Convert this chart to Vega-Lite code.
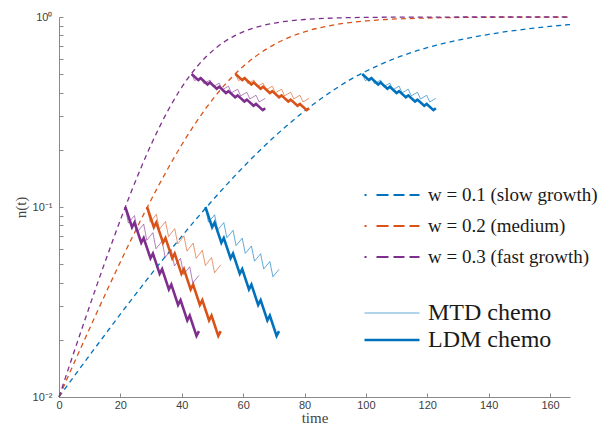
{
"$schema": "https://vega.github.io/schema/vega-lite/v6.json",
"width": 511, "height": 380,
"autosize": {"type": "none"},
"padding": {"left": 59, "top": 17, "right": 40, "bottom": 34},
"background": "white",
"config": {"view": {"stroke": null}, "font": "Liberation Sans"},
"datasets": {
"growth": [
{"t":0,"n":0.01,"w":"w = 0.1 (slow growth)"},{"t":5,"n":0.0129,"w":"w = 0.1 (slow growth)"},{"t":10,"n":0.0166,"w":"w = 0.1 (slow growth)"},{"t":15,"n":0.0213,"w":"w = 0.1 (slow growth)"},{"t":20,"n":0.0273,"w":"w = 0.1 (slow growth)"},{"t":25,"n":0.0348,"w":"w = 0.1 (slow growth)"},{"t":30,"n":0.0442,"w":"w = 0.1 (slow growth)"},{"t":35,"n":0.0558,"w":"w = 0.1 (slow growth)"},{"t":40,"n":0.0701,"w":"w = 0.1 (slow growth)"},{"t":45,"n":0.0875,"w":"w = 0.1 (slow growth)"},{"t":50,"n":0.1083,"w":"w = 0.1 (slow growth)"},{"t":55,"n":0.1331,"w":"w = 0.1 (slow growth)"},{"t":60,"n":0.1621,"w":"w = 0.1 (slow growth)"},{"t":65,"n":0.1954,"w":"w = 0.1 (slow growth)"},{"t":70,"n":0.2329,"w":"w = 0.1 (slow growth)"},{"t":75,"n":0.2746,"w":"w = 0.1 (slow growth)"},{"t":80,"n":0.3198,"w":"w = 0.1 (slow growth)"},{"t":85,"n":0.3679,"w":"w = 0.1 (slow growth)"},{"t":90,"n":0.4181,"w":"w = 0.1 (slow growth)"},{"t":95,"n":0.4693,"w":"w = 0.1 (slow growth)"},{"t":100,"n":0.518,"w":"w = 0.1 (slow growth)"},{"t":105,"n":0.565,"w":"w = 0.1 (slow growth)"},{"t":110,"n":0.61,"w":"w = 0.1 (slow growth)"},{"t":115,"n":0.651,"w":"w = 0.1 (slow growth)"},{"t":120,"n":0.69,"w":"w = 0.1 (slow growth)"},{"t":125,"n":0.724,"w":"w = 0.1 (slow growth)"},{"t":130,"n":0.755,"w":"w = 0.1 (slow growth)"},{"t":135,"n":0.784,"w":"w = 0.1 (slow growth)"},{"t":140,"n":0.81,"w":"w = 0.1 (slow growth)"},{"t":145,"n":0.834,"w":"w = 0.1 (slow growth)"},{"t":150,"n":0.855,"w":"w = 0.1 (slow growth)"},{"t":155,"n":0.875,"w":"w = 0.1 (slow growth)"},{"t":160,"n":0.893,"w":"w = 0.1 (slow growth)"},{"t":166.5,"n":0.912,"w":"w = 0.1 (slow growth)"},
{"t":0,"n":0.01,"w":"w = 0.2 (medium)"},{"t":4,"n":0.01398,"w":"w = 0.2 (medium)"},{"t":8,"n":0.0195,"w":"w = 0.2 (medium)"},{"t":12,"n":0.02708,"w":"w = 0.2 (medium)"},{"t":16,"n":0.03743,"w":"w = 0.2 (medium)"},{"t":20,"n":0.0514,"w":"w = 0.2 (medium)"},{"t":24,"n":0.06995,"w":"w = 0.2 (medium)"},{"t":28,"n":0.09432,"w":"w = 0.2 (medium)"},{"t":32,"n":0.1256,"w":"w = 0.2 (medium)"},{"t":36,"n":0.1649,"w":"w = 0.2 (medium)"},{"t":40,"n":0.2127,"w":"w = 0.2 (medium)"},{"t":44,"n":0.269,"w":"w = 0.2 (medium)"},{"t":48,"n":0.333,"w":"w = 0.2 (medium)"},{"t":52,"n":0.4029,"w":"w = 0.2 (medium)"},{"t":56,"n":0.4758,"w":"w = 0.2 (medium)"},{"t":60,"n":0.5491,"w":"w = 0.2 (medium)"},{"t":64,"n":0.6194,"w":"w = 0.2 (medium)"},{"t":68,"n":0.6845,"w":"w = 0.2 (medium)"},{"t":72,"n":0.7428,"w":"w = 0.2 (medium)"},{"t":76,"n":0.793,"w":"w = 0.2 (medium)"},{"t":80,"n":0.8356,"w":"w = 0.2 (medium)"},{"t":86.7,"n":0.8902,"w":"w = 0.2 (medium)"},{"t":93.3,"n":0.9281,"w":"w = 0.2 (medium)"},{"t":100,"n":0.9535,"w":"w = 0.2 (medium)"},{"t":106.7,"n":0.9702,"w":"w = 0.2 (medium)"},{"t":120,"n":0.988,"w":"w = 0.2 (medium)"},{"t":133.3,"n":0.9952,"w":"w = 0.2 (medium)"},{"t":160,"n":0.9992,"w":"w = 0.2 (medium)"},{"t":166.5,"n":0.9995,"w":"w = 0.2 (medium)"},
{"t":0,"n":0.01,"w":"w = 0.3 (fast growth)"},{"t":3,"n":0.01398,"w":"w = 0.3 (fast growth)"},{"t":6,"n":0.0195,"w":"w = 0.3 (fast growth)"},{"t":9,"n":0.02708,"w":"w = 0.3 (fast growth)"},{"t":12,"n":0.03743,"w":"w = 0.3 (fast growth)"},{"t":15,"n":0.0514,"w":"w = 0.3 (fast growth)"},{"t":18,"n":0.06995,"w":"w = 0.3 (fast growth)"},{"t":21,"n":0.09432,"w":"w = 0.3 (fast growth)"},{"t":24,"n":0.1256,"w":"w = 0.3 (fast growth)"},{"t":27,"n":0.1649,"w":"w = 0.3 (fast growth)"},{"t":30,"n":0.2127,"w":"w = 0.3 (fast growth)"},{"t":33,"n":0.269,"w":"w = 0.3 (fast growth)"},{"t":36,"n":0.333,"w":"w = 0.3 (fast growth)"},{"t":39,"n":0.4029,"w":"w = 0.3 (fast growth)"},{"t":42,"n":0.4758,"w":"w = 0.3 (fast growth)"},{"t":45,"n":0.5491,"w":"w = 0.3 (fast growth)"},{"t":48,"n":0.6194,"w":"w = 0.3 (fast growth)"},{"t":51,"n":0.6845,"w":"w = 0.3 (fast growth)"},{"t":54,"n":0.7428,"w":"w = 0.3 (fast growth)"},{"t":57,"n":0.793,"w":"w = 0.3 (fast growth)"},{"t":60,"n":0.8356,"w":"w = 0.3 (fast growth)"},{"t":65,"n":0.8902,"w":"w = 0.3 (fast growth)"},{"t":70,"n":0.9281,"w":"w = 0.3 (fast growth)"},{"t":75,"n":0.9535,"w":"w = 0.3 (fast growth)"},{"t":80,"n":0.9702,"w":"w = 0.3 (fast growth)"},{"t":90,"n":0.988,"w":"w = 0.3 (fast growth)"},{"t":100,"n":0.9952,"w":"w = 0.3 (fast growth)"},{"t":120,"n":0.9992,"w":"w = 0.3 (fast growth)"},{"t":140,"n":0.9999,"w":"w = 0.3 (fast growth)"},{"t":166.5,"n":1,"w":"w = 0.3 (fast growth)"}
],
"chemo": [
{"id":"p-lo-M","w":"w = 0.3 (fast growth)","k":"MTD chemo","t":21.6,"n":0.1},{"id":"p-lo-M","w":"w = 0.3 (fast growth)","k":"MTD chemo","t":22.6,"n":0.08222},{"id":"p-lo-M","w":"w = 0.3 (fast growth)","k":"MTD chemo","t":24.6,"n":0.09016},{"id":"p-lo-M","w":"w = 0.3 (fast growth)","k":"MTD chemo","t":25.6,"n":0.07413},{"id":"p-lo-M","w":"w = 0.3 (fast growth)","k":"MTD chemo","t":27.6,"n":0.08128},{"id":"p-lo-M","w":"w = 0.3 (fast growth)","k":"MTD chemo","t":28.6,"n":0.06683},{"id":"p-lo-M","w":"w = 0.3 (fast growth)","k":"MTD chemo","t":30.6,"n":0.07328},{"id":"p-lo-M","w":"w = 0.3 (fast growth)","k":"MTD chemo","t":31.6,"n":0.06025},{"id":"p-lo-M","w":"w = 0.3 (fast growth)","k":"MTD chemo","t":33.6,"n":0.06607},{"id":"p-lo-M","w":"w = 0.3 (fast growth)","k":"MTD chemo","t":34.6,"n":0.05432},{"id":"p-lo-M","w":"w = 0.3 (fast growth)","k":"MTD chemo","t":36.6,"n":0.05957},{"id":"p-lo-M","w":"w = 0.3 (fast growth)","k":"MTD chemo","t":37.6,"n":0.04898},{"id":"p-lo-M","w":"w = 0.3 (fast growth)","k":"MTD chemo","t":39.6,"n":0.05371},{"id":"p-lo-M","w":"w = 0.3 (fast growth)","k":"MTD chemo","t":40.6,"n":0.04416},{"id":"p-lo-M","w":"w = 0.3 (fast growth)","k":"MTD chemo","t":42.6,"n":0.04842},{"id":"p-lo-M","w":"w = 0.3 (fast growth)","k":"MTD chemo","t":43.6,"n":0.03981},{"id":"p-lo-M","w":"w = 0.3 (fast growth)","k":"MTD chemo","t":45.6,"n":0.04366},
{"id":"o-lo-M","w":"w = 0.2 (medium)","k":"MTD chemo","t":28.7,"n":0.1},{"id":"o-lo-M","w":"w = 0.2 (medium)","k":"MTD chemo","t":29.7,"n":0.08318},{"id":"o-lo-M","w":"w = 0.2 (medium)","k":"MTD chemo","t":31.7,"n":0.09162},{"id":"o-lo-M","w":"w = 0.2 (medium)","k":"MTD chemo","t":32.7,"n":0.07621},{"id":"o-lo-M","w":"w = 0.2 (medium)","k":"MTD chemo","t":34.7,"n":0.08394},{"id":"o-lo-M","w":"w = 0.2 (medium)","k":"MTD chemo","t":35.7,"n":0.06982},{"id":"o-lo-M","w":"w = 0.2 (medium)","k":"MTD chemo","t":37.7,"n":0.07691},{"id":"o-lo-M","w":"w = 0.2 (medium)","k":"MTD chemo","t":38.7,"n":0.06397},{"id":"o-lo-M","w":"w = 0.2 (medium)","k":"MTD chemo","t":40.7,"n":0.07046},{"id":"o-lo-M","w":"w = 0.2 (medium)","k":"MTD chemo","t":41.7,"n":0.05861},{"id":"o-lo-M","w":"w = 0.2 (medium)","k":"MTD chemo","t":43.7,"n":0.06456},{"id":"o-lo-M","w":"w = 0.2 (medium)","k":"MTD chemo","t":44.7,"n":0.0537},{"id":"o-lo-M","w":"w = 0.2 (medium)","k":"MTD chemo","t":46.7,"n":0.05915},{"id":"o-lo-M","w":"w = 0.2 (medium)","k":"MTD chemo","t":47.7,"n":0.0492},{"id":"o-lo-M","w":"w = 0.2 (medium)","k":"MTD chemo","t":49.7,"n":0.05419},{"id":"o-lo-M","w":"w = 0.2 (medium)","k":"MTD chemo","t":50.7,"n":0.04508},{"id":"o-lo-M","w":"w = 0.2 (medium)","k":"MTD chemo","t":52.7,"n":0.04965},
{"id":"b-lo-M","w":"w = 0.1 (slow growth)","k":"MTD chemo","t":47.7,"n":0.1},{"id":"b-lo-M","w":"w = 0.1 (slow growth)","k":"MTD chemo","t":48.7,"n":0.08318},{"id":"b-lo-M","w":"w = 0.1 (slow growth)","k":"MTD chemo","t":50.7,"n":0.09099},{"id":"b-lo-M","w":"w = 0.1 (slow growth)","k":"MTD chemo","t":51.7,"n":0.07569},{"id":"b-lo-M","w":"w = 0.1 (slow growth)","k":"MTD chemo","t":53.7,"n":0.08279},{"id":"b-lo-M","w":"w = 0.1 (slow growth)","k":"MTD chemo","t":54.7,"n":0.06887},{"id":"b-lo-M","w":"w = 0.1 (slow growth)","k":"MTD chemo","t":56.7,"n":0.07533},{"id":"b-lo-M","w":"w = 0.1 (slow growth)","k":"MTD chemo","t":57.7,"n":0.06266},{"id":"b-lo-M","w":"w = 0.1 (slow growth)","k":"MTD chemo","t":59.7,"n":0.06855},{"id":"b-lo-M","w":"w = 0.1 (slow growth)","k":"MTD chemo","t":60.7,"n":0.05702},{"id":"b-lo-M","w":"w = 0.1 (slow growth)","k":"MTD chemo","t":62.7,"n":0.06237},{"id":"b-lo-M","w":"w = 0.1 (slow growth)","k":"MTD chemo","t":63.7,"n":0.05188},{"id":"b-lo-M","w":"w = 0.1 (slow growth)","k":"MTD chemo","t":65.7,"n":0.05675},{"id":"b-lo-M","w":"w = 0.1 (slow growth)","k":"MTD chemo","t":66.7,"n":0.0472},{"id":"b-lo-M","w":"w = 0.1 (slow growth)","k":"MTD chemo","t":68.7,"n":0.05164},{"id":"b-lo-M","w":"w = 0.1 (slow growth)","k":"MTD chemo","t":69.7,"n":0.04295},{"id":"b-lo-M","w":"w = 0.1 (slow growth)","k":"MTD chemo","t":71.7,"n":0.04699},
{"id":"p-hi-M","w":"w = 0.3 (fast growth)","k":"MTD chemo","t":43.2,"n":0.5012},{"id":"p-hi-M","w":"w = 0.3 (fast growth)","k":"MTD chemo","t":44.2,"n":0.4624},{"id":"p-hi-M","w":"w = 0.3 (fast growth)","k":"MTD chemo","t":46.2,"n":0.4831},{"id":"p-hi-M","w":"w = 0.3 (fast growth)","k":"MTD chemo","t":47.2,"n":0.4457},{"id":"p-hi-M","w":"w = 0.3 (fast growth)","k":"MTD chemo","t":49.2,"n":0.4656},{"id":"p-hi-M","w":"w = 0.3 (fast growth)","k":"MTD chemo","t":50.2,"n":0.4295},{"id":"p-hi-M","w":"w = 0.3 (fast growth)","k":"MTD chemo","t":52.2,"n":0.4487},{"id":"p-hi-M","w":"w = 0.3 (fast growth)","k":"MTD chemo","t":53.2,"n":0.414},{"id":"p-hi-M","w":"w = 0.3 (fast growth)","k":"MTD chemo","t":55.2,"n":0.4325},{"id":"p-hi-M","w":"w = 0.3 (fast growth)","k":"MTD chemo","t":56.2,"n":0.399},{"id":"p-hi-M","w":"w = 0.3 (fast growth)","k":"MTD chemo","t":58.2,"n":0.4168},{"id":"p-hi-M","w":"w = 0.3 (fast growth)","k":"MTD chemo","t":59.2,"n":0.3846},{"id":"p-hi-M","w":"w = 0.3 (fast growth)","k":"MTD chemo","t":61.2,"n":0.4017},{"id":"p-hi-M","w":"w = 0.3 (fast growth)","k":"MTD chemo","t":62.2,"n":0.3706},{"id":"p-hi-M","w":"w = 0.3 (fast growth)","k":"MTD chemo","t":64.2,"n":0.3872},{"id":"p-hi-M","w":"w = 0.3 (fast growth)","k":"MTD chemo","t":65.2,"n":0.3572},{"id":"p-hi-M","w":"w = 0.3 (fast growth)","k":"MTD chemo","t":67.2,"n":0.3732},
{"id":"o-hi-M","w":"w = 0.2 (medium)","k":"MTD chemo","t":57.5,"n":0.5012},{"id":"o-hi-M","w":"w = 0.2 (medium)","k":"MTD chemo","t":58.5,"n":0.4624},{"id":"o-hi-M","w":"w = 0.2 (medium)","k":"MTD chemo","t":60.5,"n":0.4831},{"id":"o-hi-M","w":"w = 0.2 (medium)","k":"MTD chemo","t":61.5,"n":0.4457},{"id":"o-hi-M","w":"w = 0.2 (medium)","k":"MTD chemo","t":63.5,"n":0.4656},{"id":"o-hi-M","w":"w = 0.2 (medium)","k":"MTD chemo","t":64.5,"n":0.4295},{"id":"o-hi-M","w":"w = 0.2 (medium)","k":"MTD chemo","t":66.5,"n":0.4487},{"id":"o-hi-M","w":"w = 0.2 (medium)","k":"MTD chemo","t":67.5,"n":0.414},{"id":"o-hi-M","w":"w = 0.2 (medium)","k":"MTD chemo","t":69.5,"n":0.4325},{"id":"o-hi-M","w":"w = 0.2 (medium)","k":"MTD chemo","t":70.5,"n":0.399},{"id":"o-hi-M","w":"w = 0.2 (medium)","k":"MTD chemo","t":72.5,"n":0.4168},{"id":"o-hi-M","w":"w = 0.2 (medium)","k":"MTD chemo","t":73.5,"n":0.3846},{"id":"o-hi-M","w":"w = 0.2 (medium)","k":"MTD chemo","t":75.5,"n":0.4017},{"id":"o-hi-M","w":"w = 0.2 (medium)","k":"MTD chemo","t":76.5,"n":0.3706},{"id":"o-hi-M","w":"w = 0.2 (medium)","k":"MTD chemo","t":78.5,"n":0.3872},{"id":"o-hi-M","w":"w = 0.2 (medium)","k":"MTD chemo","t":79.5,"n":0.3572},{"id":"o-hi-M","w":"w = 0.2 (medium)","k":"MTD chemo","t":81.5,"n":0.3732},
{"id":"b-hi-M","w":"w = 0.1 (slow growth)","k":"MTD chemo","t":98.8,"n":0.5012},{"id":"b-hi-M","w":"w = 0.1 (slow growth)","k":"MTD chemo","t":99.8,"n":0.4624},{"id":"b-hi-M","w":"w = 0.1 (slow growth)","k":"MTD chemo","t":101.8,"n":0.4831},{"id":"b-hi-M","w":"w = 0.1 (slow growth)","k":"MTD chemo","t":102.8,"n":0.4457},{"id":"b-hi-M","w":"w = 0.1 (slow growth)","k":"MTD chemo","t":104.8,"n":0.4656},{"id":"b-hi-M","w":"w = 0.1 (slow growth)","k":"MTD chemo","t":105.8,"n":0.4295},{"id":"b-hi-M","w":"w = 0.1 (slow growth)","k":"MTD chemo","t":107.8,"n":0.4487},{"id":"b-hi-M","w":"w = 0.1 (slow growth)","k":"MTD chemo","t":108.8,"n":0.414},{"id":"b-hi-M","w":"w = 0.1 (slow growth)","k":"MTD chemo","t":110.8,"n":0.4325},{"id":"b-hi-M","w":"w = 0.1 (slow growth)","k":"MTD chemo","t":111.8,"n":0.399},{"id":"b-hi-M","w":"w = 0.1 (slow growth)","k":"MTD chemo","t":113.8,"n":0.4168},{"id":"b-hi-M","w":"w = 0.1 (slow growth)","k":"MTD chemo","t":114.8,"n":0.3846},{"id":"b-hi-M","w":"w = 0.1 (slow growth)","k":"MTD chemo","t":116.8,"n":0.4017},{"id":"b-hi-M","w":"w = 0.1 (slow growth)","k":"MTD chemo","t":117.8,"n":0.3706},{"id":"b-hi-M","w":"w = 0.1 (slow growth)","k":"MTD chemo","t":119.8,"n":0.3872},{"id":"b-hi-M","w":"w = 0.1 (slow growth)","k":"MTD chemo","t":120.8,"n":0.3572},{"id":"b-hi-M","w":"w = 0.1 (slow growth)","k":"MTD chemo","t":122.8,"n":0.3732},
{"id":"p-lo-L","w":"w = 0.3 (fast growth)","k":"LDM chemo","t":21.6,"n":0.1},{"id":"p-lo-L","w":"w = 0.3 (fast growth)","k":"LDM chemo","t":23.8,"n":0.07823},{"id":"p-lo-L","w":"w = 0.3 (fast growth)","k":"LDM chemo","t":24.6,"n":0.08286},{"id":"p-lo-L","w":"w = 0.3 (fast growth)","k":"LDM chemo","t":26.8,"n":0.06482},{"id":"p-lo-L","w":"w = 0.3 (fast growth)","k":"LDM chemo","t":27.6,"n":0.06866},{"id":"p-lo-L","w":"w = 0.3 (fast growth)","k":"LDM chemo","t":29.8,"n":0.05371},{"id":"p-lo-L","w":"w = 0.3 (fast growth)","k":"LDM chemo","t":30.6,"n":0.05689},{"id":"p-lo-L","w":"w = 0.3 (fast growth)","k":"LDM chemo","t":32.8,"n":0.04451},{"id":"p-lo-L","w":"w = 0.3 (fast growth)","k":"LDM chemo","t":33.6,"n":0.04714},{"id":"p-lo-L","w":"w = 0.3 (fast growth)","k":"LDM chemo","t":35.8,"n":0.03688},{"id":"p-lo-L","w":"w = 0.3 (fast growth)","k":"LDM chemo","t":36.6,"n":0.03906},{"id":"p-lo-L","w":"w = 0.3 (fast growth)","k":"LDM chemo","t":38.8,"n":0.03056},{"id":"p-lo-L","w":"w = 0.3 (fast growth)","k":"LDM chemo","t":39.6,"n":0.03237},{"id":"p-lo-L","w":"w = 0.3 (fast growth)","k":"LDM chemo","t":41.8,"n":0.02532},{"id":"p-lo-L","w":"w = 0.3 (fast growth)","k":"LDM chemo","t":42.6,"n":0.02682},{"id":"p-lo-L","w":"w = 0.3 (fast growth)","k":"LDM chemo","t":44.8,"n":0.02098},{"id":"p-lo-L","w":"w = 0.3 (fast growth)","k":"LDM chemo","t":45.6,"n":0.02222},
{"id":"o-lo-L","w":"w = 0.2 (medium)","k":"LDM chemo","t":28.7,"n":0.1},{"id":"o-lo-L","w":"w = 0.2 (medium)","k":"LDM chemo","t":30.9,"n":0.07823},{"id":"o-lo-L","w":"w = 0.2 (medium)","k":"LDM chemo","t":31.7,"n":0.08286},{"id":"o-lo-L","w":"w = 0.2 (medium)","k":"LDM chemo","t":33.9,"n":0.06482},{"id":"o-lo-L","w":"w = 0.2 (medium)","k":"LDM chemo","t":34.7,"n":0.06866},{"id":"o-lo-L","w":"w = 0.2 (medium)","k":"LDM chemo","t":36.9,"n":0.05371},{"id":"o-lo-L","w":"w = 0.2 (medium)","k":"LDM chemo","t":37.7,"n":0.05689},{"id":"o-lo-L","w":"w = 0.2 (medium)","k":"LDM chemo","t":39.9,"n":0.04451},{"id":"o-lo-L","w":"w = 0.2 (medium)","k":"LDM chemo","t":40.7,"n":0.04714},{"id":"o-lo-L","w":"w = 0.2 (medium)","k":"LDM chemo","t":42.9,"n":0.03688},{"id":"o-lo-L","w":"w = 0.2 (medium)","k":"LDM chemo","t":43.7,"n":0.03906},{"id":"o-lo-L","w":"w = 0.2 (medium)","k":"LDM chemo","t":45.9,"n":0.03056},{"id":"o-lo-L","w":"w = 0.2 (medium)","k":"LDM chemo","t":46.7,"n":0.03237},{"id":"o-lo-L","w":"w = 0.2 (medium)","k":"LDM chemo","t":48.9,"n":0.02532},{"id":"o-lo-L","w":"w = 0.2 (medium)","k":"LDM chemo","t":49.7,"n":0.02682},{"id":"o-lo-L","w":"w = 0.2 (medium)","k":"LDM chemo","t":51.9,"n":0.02098},{"id":"o-lo-L","w":"w = 0.2 (medium)","k":"LDM chemo","t":52.7,"n":0.02222},
{"id":"b-lo-L","w":"w = 0.1 (slow growth)","k":"LDM chemo","t":47.7,"n":0.1},{"id":"b-lo-L","w":"w = 0.1 (slow growth)","k":"LDM chemo","t":49.9,"n":0.07823},{"id":"b-lo-L","w":"w = 0.1 (slow growth)","k":"LDM chemo","t":50.7,"n":0.08286},{"id":"b-lo-L","w":"w = 0.1 (slow growth)","k":"LDM chemo","t":52.9,"n":0.06482},{"id":"b-lo-L","w":"w = 0.1 (slow growth)","k":"LDM chemo","t":53.7,"n":0.06866},{"id":"b-lo-L","w":"w = 0.1 (slow growth)","k":"LDM chemo","t":55.9,"n":0.05371},{"id":"b-lo-L","w":"w = 0.1 (slow growth)","k":"LDM chemo","t":56.7,"n":0.05689},{"id":"b-lo-L","w":"w = 0.1 (slow growth)","k":"LDM chemo","t":58.9,"n":0.04451},{"id":"b-lo-L","w":"w = 0.1 (slow growth)","k":"LDM chemo","t":59.7,"n":0.04714},{"id":"b-lo-L","w":"w = 0.1 (slow growth)","k":"LDM chemo","t":61.9,"n":0.03688},{"id":"b-lo-L","w":"w = 0.1 (slow growth)","k":"LDM chemo","t":62.7,"n":0.03906},{"id":"b-lo-L","w":"w = 0.1 (slow growth)","k":"LDM chemo","t":64.9,"n":0.03056},{"id":"b-lo-L","w":"w = 0.1 (slow growth)","k":"LDM chemo","t":65.7,"n":0.03237},{"id":"b-lo-L","w":"w = 0.1 (slow growth)","k":"LDM chemo","t":67.9,"n":0.02532},{"id":"b-lo-L","w":"w = 0.1 (slow growth)","k":"LDM chemo","t":68.7,"n":0.02682},{"id":"b-lo-L","w":"w = 0.1 (slow growth)","k":"LDM chemo","t":70.9,"n":0.02098},{"id":"b-lo-L","w":"w = 0.1 (slow growth)","k":"LDM chemo","t":71.7,"n":0.02222},
{"id":"p-hi-L","w":"w = 0.3 (fast growth)","k":"LDM chemo","t":43.2,"n":0.5012},{"id":"p-hi-L","w":"w = 0.3 (fast growth)","k":"LDM chemo","t":45.4,"n":0.4651},{"id":"p-hi-L","w":"w = 0.3 (fast growth)","k":"LDM chemo","t":46.2,"n":0.4759},{"id":"p-hi-L","w":"w = 0.3 (fast growth)","k":"LDM chemo","t":48.4,"n":0.4416},{"id":"p-hi-L","w":"w = 0.3 (fast growth)","k":"LDM chemo","t":49.2,"n":0.4519},{"id":"p-hi-L","w":"w = 0.3 (fast growth)","k":"LDM chemo","t":51.4,"n":0.4193},{"id":"p-hi-L","w":"w = 0.3 (fast growth)","k":"LDM chemo","t":52.2,"n":0.4291},{"id":"p-hi-L","w":"w = 0.3 (fast growth)","k":"LDM chemo","t":54.4,"n":0.3982},{"id":"p-hi-L","w":"w = 0.3 (fast growth)","k":"LDM chemo","t":55.2,"n":0.4074},{"id":"p-hi-L","w":"w = 0.3 (fast growth)","k":"LDM chemo","t":57.4,"n":0.378},{"id":"p-hi-L","w":"w = 0.3 (fast growth)","k":"LDM chemo","t":58.2,"n":0.3868},{"id":"p-hi-L","w":"w = 0.3 (fast growth)","k":"LDM chemo","t":60.4,"n":0.3589},{"id":"p-hi-L","w":"w = 0.3 (fast growth)","k":"LDM chemo","t":61.2,"n":0.3673},{"id":"p-hi-L","w":"w = 0.3 (fast growth)","k":"LDM chemo","t":63.4,"n":0.3408},{"id":"p-hi-L","w":"w = 0.3 (fast growth)","k":"LDM chemo","t":64.2,"n":0.3487},{"id":"p-hi-L","w":"w = 0.3 (fast growth)","k":"LDM chemo","t":66.4,"n":0.3236},{"id":"p-hi-L","w":"w = 0.3 (fast growth)","k":"LDM chemo","t":67.2,"n":0.3311},
{"id":"o-hi-L","w":"w = 0.2 (medium)","k":"LDM chemo","t":57.5,"n":0.5012},{"id":"o-hi-L","w":"w = 0.2 (medium)","k":"LDM chemo","t":59.7,"n":0.4651},{"id":"o-hi-L","w":"w = 0.2 (medium)","k":"LDM chemo","t":60.5,"n":0.4759},{"id":"o-hi-L","w":"w = 0.2 (medium)","k":"LDM chemo","t":62.7,"n":0.4416},{"id":"o-hi-L","w":"w = 0.2 (medium)","k":"LDM chemo","t":63.5,"n":0.4519},{"id":"o-hi-L","w":"w = 0.2 (medium)","k":"LDM chemo","t":65.7,"n":0.4193},{"id":"o-hi-L","w":"w = 0.2 (medium)","k":"LDM chemo","t":66.5,"n":0.4291},{"id":"o-hi-L","w":"w = 0.2 (medium)","k":"LDM chemo","t":68.7,"n":0.3982},{"id":"o-hi-L","w":"w = 0.2 (medium)","k":"LDM chemo","t":69.5,"n":0.4074},{"id":"o-hi-L","w":"w = 0.2 (medium)","k":"LDM chemo","t":71.7,"n":0.378},{"id":"o-hi-L","w":"w = 0.2 (medium)","k":"LDM chemo","t":72.5,"n":0.3868},{"id":"o-hi-L","w":"w = 0.2 (medium)","k":"LDM chemo","t":74.7,"n":0.3589},{"id":"o-hi-L","w":"w = 0.2 (medium)","k":"LDM chemo","t":75.5,"n":0.3673},{"id":"o-hi-L","w":"w = 0.2 (medium)","k":"LDM chemo","t":77.7,"n":0.3408},{"id":"o-hi-L","w":"w = 0.2 (medium)","k":"LDM chemo","t":78.5,"n":0.3487},{"id":"o-hi-L","w":"w = 0.2 (medium)","k":"LDM chemo","t":80.7,"n":0.3236},{"id":"o-hi-L","w":"w = 0.2 (medium)","k":"LDM chemo","t":81.5,"n":0.3311},
{"id":"b-hi-L","w":"w = 0.1 (slow growth)","k":"LDM chemo","t":98.8,"n":0.5012},{"id":"b-hi-L","w":"w = 0.1 (slow growth)","k":"LDM chemo","t":101,"n":0.4651},{"id":"b-hi-L","w":"w = 0.1 (slow growth)","k":"LDM chemo","t":101.8,"n":0.4759},{"id":"b-hi-L","w":"w = 0.1 (slow growth)","k":"LDM chemo","t":104,"n":0.4416},{"id":"b-hi-L","w":"w = 0.1 (slow growth)","k":"LDM chemo","t":104.8,"n":0.4519},{"id":"b-hi-L","w":"w = 0.1 (slow growth)","k":"LDM chemo","t":107,"n":0.4193},{"id":"b-hi-L","w":"w = 0.1 (slow growth)","k":"LDM chemo","t":107.8,"n":0.4291},{"id":"b-hi-L","w":"w = 0.1 (slow growth)","k":"LDM chemo","t":110,"n":0.3982},{"id":"b-hi-L","w":"w = 0.1 (slow growth)","k":"LDM chemo","t":110.8,"n":0.4074},{"id":"b-hi-L","w":"w = 0.1 (slow growth)","k":"LDM chemo","t":113,"n":0.378},{"id":"b-hi-L","w":"w = 0.1 (slow growth)","k":"LDM chemo","t":113.8,"n":0.3868},{"id":"b-hi-L","w":"w = 0.1 (slow growth)","k":"LDM chemo","t":116,"n":0.3589},{"id":"b-hi-L","w":"w = 0.1 (slow growth)","k":"LDM chemo","t":116.8,"n":0.3673},{"id":"b-hi-L","w":"w = 0.1 (slow growth)","k":"LDM chemo","t":119,"n":0.3408},{"id":"b-hi-L","w":"w = 0.1 (slow growth)","k":"LDM chemo","t":119.8,"n":0.3487},{"id":"b-hi-L","w":"w = 0.1 (slow growth)","k":"LDM chemo","t":122,"n":0.3236},{"id":"b-hi-L","w":"w = 0.1 (slow growth)","k":"LDM chemo","t":122.8,"n":0.3311}
]
},
"layer": [
{
"data": {"name": "growth"},
"mark": {"type": "line", "strokeDash": [5, 4], "strokeWidth": 1.3, "interpolate": "monotone"},
"encoding": {
"x": {"field": "t", "type": "quantitative", "scale": {"domain": [0, 166.5], "nice": false, "zero": false},
"axis": {"values": [0,20,40,60,80,100,120,140,160], "title": "time", "titleFont": "Liberation Serif", "titleFontSize": 15, "titleFontWeight": "normal", "titleColor": "#444444", "titlePadding": 0, "labelFont": "Liberation Sans", "labelFontSize": 11, "labelColor": "#404040", "tickSize": -4, "labelPadding": 6, "domainColor": "#8a8a8a", "tickColor": "#8a8a8a", "grid": false, "labelFlush": false}},
"y": {"field": "n", "type": "quantitative", "scale": {"type": "log", "domain": [0.01, 1], "nice": false},
"axis": {"values": [0.01,0.02,0.03,0.04,0.05,0.06,0.07,0.08,0.09,0.1,0.2,0.3,0.4,0.5,0.6,0.7,0.8,0.9,1], "labelExpr": "datum.value == 1 ? '10⁰' : datum.value == 0.1 ? '10⁻¹' : datum.value == 0.01 ? '10⁻²' : ''", "labelOverlap": false, "title": "n(t)", "titleFont": "Liberation Serif", "titleFontSize": 15, "titleFontWeight": "normal", "titleColor": "#444444", "titlePadding": 4, "labelFont": "Liberation Sans", "labelFontSize": 11, "labelColor": "#404040", "tickSize": -4, "labelPadding": 11, "domainColor": "#8a8a8a", "tickColor": "#8a8a8a", "grid": false, "labelFlush": false}},
"color": {"field": "w", "type": "nominal", "scale": {"domain": ["w = 0.1 (slow growth)", "w = 0.2 (medium)", "w = 0.3 (fast growth)"], "range": ["#0072BD", "#D95319", "#7E2F8E"]},
"legend": {"title": null, "orient": "none", "legendX": 304, "legendY": 166, "symbolType": "stroke", "symbolSize": 3025, "symbolStrokeWidth": 2.2, "symbolDash": [2,10,12,5,11,5,10,30], "labelFont": "Liberation Serif", "labelFontSize": 19, "labelColor": "#1a1a1a", "labelOffset": 7, "clipHeight": 24, "rowPadding": 7, "padding": 0, "labelLimit": 400,
"encode": {"symbols": {"update": {"strokeDash": {"value": [2,10,12,5,11,5,10,30]}, "strokeWidth": {"value": 2.2}, "opacity": {"value": 1}}}}}}
}
},
{
"data": {"name": "chemo"},
"mark": {"type": "line"},
"encoding": {
"x": {"field": "t", "type": "quantitative"},
"y": {"field": "n", "type": "quantitative"},
"color": {"field": "w", "type": "nominal",
"legend": {"title": null, "orient": "none", "legendX": 304, "legendY": 166, "symbolType": "stroke", "symbolSize": 3025, "symbolStrokeWidth": 2.2, "symbolDash": [2,10,12,5,11,5,10,30], "labelFont": "Liberation Serif", "labelFontSize": 19, "labelColor": "#1a1a1a", "labelOffset": 7, "clipHeight": 24, "rowPadding": 7, "padding": 0, "labelLimit": 400,
"encode": {"symbols": {"update": {"strokeDash": {"value": [2,10,12,5,11,5,10,30]}, "strokeWidth": {"value": 2.2}, "opacity": {"value": 1}}}}}},
"detail": {"field": "id"},
"strokeWidth": {"field": "k", "type": "ordinal", "scale": {"domain": ["MTD chemo", "LDM chemo"], "range": [1, 2.6]},
"legend": {"title": null, "orient": "none", "legendX": 304, "legendY": 284, "symbolType": "stroke", "symbolSize": 3025, "symbolStrokeColor": "#0072BD", "labelFont": "Liberation Serif", "labelFontSize": 24, "labelColor": "#1a1a1a", "labelOffset": 7, "clipHeight": 24, "rowPadding": 3, "padding": 0, "labelLimit": 400,
"encode": {"symbols": {"update": {"stroke": {"value": "#0072BD"}, "strokeWidth": {"signal": "datum.value === 'LDM chemo' ? 5 : 1.2"}, "opacity": {"signal": "datum.value === 'LDM chemo' ? 1 : 0.75"}}}}}},
"opacity": {"field": "k", "type": "ordinal", "scale": {"domain": ["MTD chemo", "LDM chemo"], "range": [0.6, 1]}, "legend": null}
}
}
]
}
